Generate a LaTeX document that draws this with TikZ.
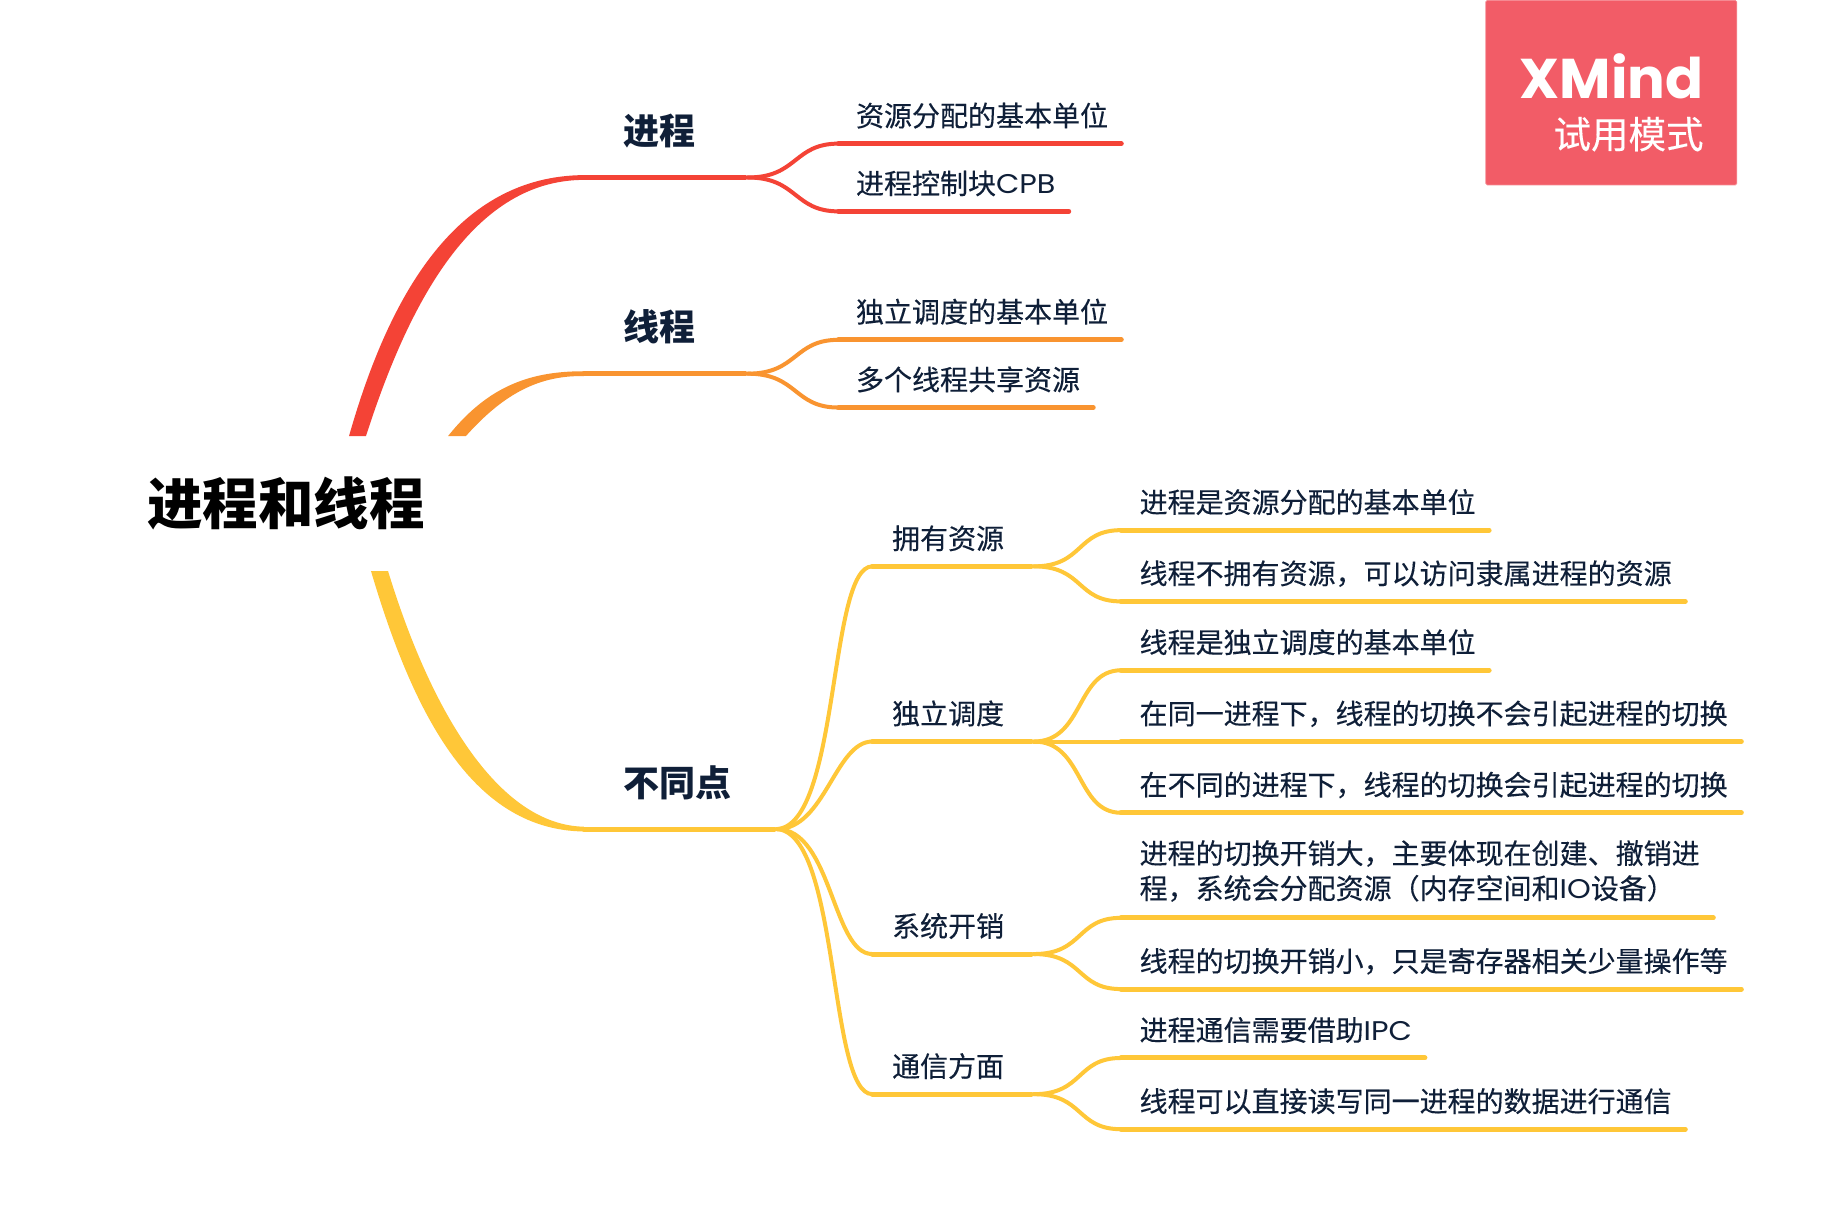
\documentclass[tikz,border=0pt]{standalone}
\usepackage{fontspec}
\setmainfont[FakeBold=0.25,BoldFeatures={FakeBold=0}]{Noto Sans CJK SC}
\newfontfamily\latf[FakeStretch=1.12]{Poppins}
\newfontfamily\logof{Poppins}
\usetikzlibrary{calc}
\definecolor{ink}{HTML}{0F1F38}
\definecolor{cred}{HTML}{F44336}
\definecolor{corange}{HTML}{F99430}
\definecolor{cyellow}{HTML}{FFC738}
\definecolor{logobg}{HTML}{F25C67}
\definecolor{logoedge}{HTML}{F58A92}
\tikzset{
  topicbase/.style={anchor=south west,inner ysep=0pt,align=left,text=ink},
  maintopic/.style={topicbase,font=\fontsize{36}{44}\selectfont\bfseries,text depth=32.6pt},
  subtopic/.style={topicbase,font=\fontsize{28}{35}\selectfont,text depth=17.2pt},
  link/.style={line width=4pt,line cap=round},
  rule/.style={line width=5pt,line cap=round},
}
% style, name, xstart, yline, xend, xsep(pt), text
\newcommand{\topic}[7]{%
  \pgfmathsetlengthmacro{\tw}{(#5-#3)*1.1677pt-2*#6pt}%
  \node[#1,inner xsep=#6pt,text width=\tw] (#2) at (#3,#4) {#7};
}
\newcommand{\under}[2]{\draw[rule,#2] (#1.south west) -- ([xshift=-2.5pt]#1.south east);}
\newcommand{\join}[3]{%
  \draw[link,#3] (#1.south east) .. controls ($(#1.south east)+(50pt,0)$) and ($(#2.south west)+(-45pt,0)$) .. (#2.south west);}
\newcommand{\fan}[3]{%
  \draw[link,cyellow] (mc.south east) .. controls +(#2) and ($(#1.south west)+(#3)$) .. (#1.south west);}
\newcommand{\lat}[1]{{\latf\fontsize{27}{35}\selectfont #1}}
\begin{document}
\begin{tikzpicture}[x=1.1677pt,y=-1.1677pt]
\useasboundingbox (0,0) rectangle (1568,1044);
\fill[white] (0,0) rectangle (1568,1044);
% main topics
\topic{maintopic}{ma}{500}{152}{640}{39.7}{进程}
\topic{maintopic}{mb}{500}{320}{640}{39.7}{线程}
\topic{maintopic}{mc}{500}{710}{665}{39.7}{不同点}
% first-level leaves
\topic{subtopic}{a1}{718}{123}{962}{17.4}{资源分配的基本单位}
\topic{subtopic}{a2}{718}{181}{917}{17.4}{进程控制块\lat{CPB}}
\topic{subtopic}{b1}{718}{291}{962}{17.4}{独立调度的基本单位}
\topic{subtopic}{b2}{718}{349}{938}{17.4}{多个线程共享资源}
% subtopics
\topic{subtopic}{s1}{747}{485}{885}{19.6}{拥有资源}
\topic{subtopic}{s2}{747}{635}{885}{19.6}{独立调度}
\topic{subtopic}{s3}{747}{817}{885}{19.6}{系统开销}
\topic{subtopic}{s4}{747}{937}{885}{19.6}{通信方面}
% leaves
\topic{subtopic}{l1}{960}{454}{1277}{18.4}{进程是资源分配的基本单位}
\topic{subtopic}{l2}{960}{515}{1445}{18.4}{线程不拥有资源，可以访问隶属进程的资源}
\topic{subtopic}{l3}{960}{574}{1277}{18.4}{线程是独立调度的基本单位}
\topic{subtopic}{l4}{960}{635}{1493}{18.4}{在同一进程下，线程的切换不会引起进程的切换}
\topic{subtopic}{l5}{960}{696}{1493}{18.4}{在不同的进程下，线程的切换会引起进程的切换}
\topic{subtopic,text depth=53.8pt}{l6}{960}{786}{1469}{18.4}{进程的切换开销大，主要体现在创建、撤销进\\程，系统会分配资源（内存空间和\lat{IO}设备）}
\topic{subtopic}{l7}{960}{847}{1493}{18.4}{线程的切换开销小，只是寄存器相关少量操作等}
\topic{subtopic}{l8}{960}{906}{1222}{18.4}{进程通信需要借助\lat{IPC}}
\topic{subtopic}{l9}{960}{967}{1445}{18.4}{线程可以直接读写同一进程的数据进行通信}
% tapered root branches
\coordinate (redL) at (298.9,373.4);   \coordinate (redR) at (313.4,373.4);
\coordinate (orgL) at (383.7,373.4);   \coordinate (orgR) at (399,373.4);
\coordinate (yelL) at (317.7,489);     \coordinate (yelR) at (332.3,489);
\fill[cred] (redL) .. controls (334,250) and (392.2,150.7) .. ([yshift=2.4pt]ma.south west)
  -- ([yshift=-2.4pt]ma.south west) .. controls (400.8,154.1) and (346.8,269.8) .. (redR) -- cycle;
\fill[corange] (orgL) .. controls (415.3,334) and (449.6,317.7) .. ([yshift=2.4pt]mb.south west)
  -- ([yshift=-2.4pt]mb.south west) .. controls (458.2,321.2) and (428.2,340.8) .. (orgR) -- cycle;
\fill[cyellow] (yelL) .. controls (355.4,616.6) and (406.8,710.8) .. ([yshift=-2.4pt]mc.south west)
  -- ([yshift=2.4pt]mc.south west) .. controls (428.2,706.5) and (370,612.3) .. (yelR) -- cycle;
% rules
\under{ma}{cred} \under{a1}{cred} \under{a2}{cred}
\under{mb}{corange} \under{b1}{corange} \under{b2}{corange}
\foreach \n in {mc,s1,s2,s3,s4,l1,l2,l3,l4,l5,l6,l7,l8,l9}{\under{\n}{cyellow}}
% links
\join{ma}{a1}{cred} \join{ma}{a2}{cred}
\join{mb}{b1}{corange} \join{mb}{b2}{corange}
\fan{s1}{63pt,4pt}{-44pt,0}
\fan{s2}{48pt,0}{-37pt,0}
\fan{s3}{55pt,0}{-40pt,0}
\fan{s4}{63pt,-4pt}{-44pt,0}
\join{s1}{l1}{cyellow} \join{s1}{l2}{cyellow}
\join{s2}{l3}{cyellow} \join{s2}{l4}{cyellow} \join{s2}{l5}{cyellow}
\join{s3}{l6}{cyellow} \join{s3}{l7}{cyellow}
\join{s4}{l8}{cyellow} \join{s4}{l9}{cyellow}
% root
\node[inner sep=0pt,font=\fontsize{55.5}{60}\selectfont\bfseries,text=black] (root) at (245,431) {进程和线程};
% logo
\node[anchor=north west,fill=logobg,draw=logoedge,line width=0.8pt,rounded corners=1.5pt,minimum width=251pt,minimum height=184.5pt,inner sep=0pt] (logo) at (1272,0) {};
\node[anchor=base east,inner sep=0pt,text=white,font=\logof\bfseries\fontsize{56}{60}\selectfont] (xm) at (1459,84) {XMind};
\node[anchor=base east,inner sep=0pt,text=white,font=\fontsize{37.5}{40}\selectfont] (try) at (1459,127) {试用模式};
\end{tikzpicture}
\end{document}
